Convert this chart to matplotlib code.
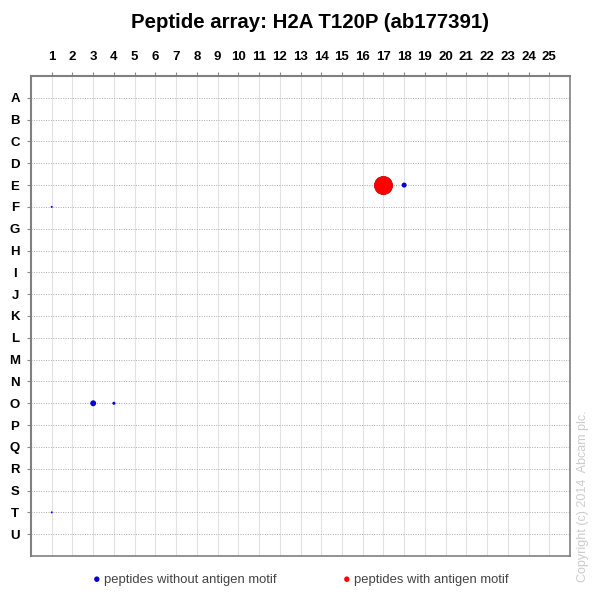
import matplotlib
matplotlib.use("Agg")
import matplotlib.pyplot as plt
import numpy as np

plt.rcParams["font.family"] = ["Liberation Sans", "DejaVu Sans"]

# column numbers and row letters of the peptide array
cols = list(range(1, 26))
rows = list("ABCDEFGHIJKLMNOPQRSTU")

# spots found on the array (column, row, signal)
blue_col = [18, 1, 3, 4, 1]
blue_row = ["E", "F", "O", "O", "T"]
blue_sig = [13, 2, 18, 5, 2]

red_col = [17]
red_row = ["E"]
red_sig = [170]

fig = plt.figure(figsize=(5.99, 5.99), dpi=100)
ax = fig.add_axes([31 / 599, 1 - 556 / 599, 539 / 599, 480 / 599])

ax.set_xlim(0, 26)
ax.set_ylim(22, 0)

ax.set_xticks(cols)
ax.set_xticklabels([str(c) for c in cols], fontsize=9.5, fontweight="bold")
ax.set_yticks(range(1, len(rows) + 1))
ax.set_yticklabels(rows, fontsize=9.5, fontweight="bold", ha="center")
ax.xaxis.tick_top()
ax.tick_params(axis="x", length=3, color="#888888", pad=6)
ax.tick_params(axis="y", length=3, color="#888888", pad=8.5)
ax.tick_params(axis="both", which="both", bottom=False, right=False)

# vertical grid light, horizontal dotted
for c in cols:
    ax.axvline(c, color="#e2e2e2", lw=0.8, zorder=0)
for r in range(1, len(rows) + 1):
    ax.axhline(r, color="#aaaaaa", lw=0.7, ls=(0, (1, 1.5)), zorder=0)

for side in ["left", "top", "right", "bottom"]:
    ax.spines[side].set_color("#808080")
ax.spines["left"].set_linewidth(1.5)
ax.spines["top"].set_linewidth(1.5)
ax.spines["right"].set_linewidth(1.2)
ax.spines["bottom"].set_linewidth(1.2)

by = [rows.index(r) + 1 for r in blue_row]
ry = [rows.index(r) + 1 for r in red_row]
ax.scatter(blue_col, by, s=blue_sig, color="#0000dd", zorder=3, linewidths=0)
ax.scatter(red_col, ry, s=red_sig, color="#ff0000", edgecolors="#cc0000", linewidths=0.6, zorder=3)

fig.text(310 / 599, 1 - 22 / 599, "Peptide array: H2A T120P (ab177391)",
         ha="center", va="center", fontsize=14.7, fontweight="bold")

# legend
fig.text(97 / 599, 1 - 580 / 599, "\u25CF", color="#0000dd", fontsize=9, ha="center", va="center")
fig.text(104 / 599, 1 - 580 / 599, "peptides without antigen motif", color="#444444",
         fontsize=9.4, ha="left", va="center")
fig.text(347 / 599, 1 - 580 / 599, "\u25CF", color="#ff0000", fontsize=9, ha="center", va="center")
fig.text(354 / 599, 1 - 580 / 599, "peptides with antigen motif", color="#444444",
         fontsize=9.4, ha="left", va="center")

fig.text(583 / 599, 1 - 496 / 599, "Copyright (c) 2014  Abcam plc.", color="#cccccc",
         fontsize=9, rotation=90, ha="center", va="center")

fig.savefig("out.png", dpi=100)
